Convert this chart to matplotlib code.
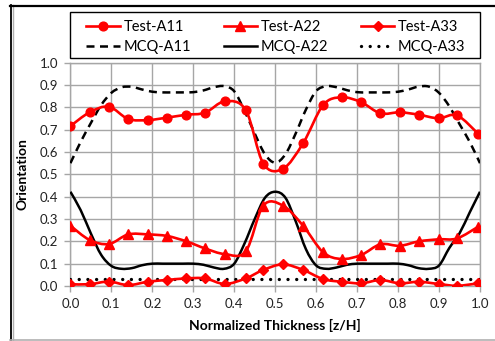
import matplotlib
matplotlib.use("Agg")
import matplotlib.pyplot as plt
from matplotlib.path import Path
from matplotlib.patches import PathPatch, Rectangle
from matplotlib.lines import Line2D
from matplotlib.ticker import MultipleLocator, FormatStrFormatter

# ---------------- data ----------------
test_x = [0.0, 0.047, 0.094, 0.141, 0.189, 0.236, 0.283, 0.329, 0.377, 0.428, 0.471,
          0.519, 0.568, 0.617, 0.662, 0.710, 0.757, 0.804, 0.851, 0.899, 0.944, 0.996]
test_a11 = [0.716, 0.778, 0.803, 0.748, 0.743, 0.754, 0.767, 0.776, 0.827, 0.788, 0.548,
            0.525, 0.639, 0.810, 0.845, 0.823, 0.773, 0.778, 0.767, 0.751, 0.764, 0.681]
test_a22 = [0.270, 0.206, 0.188, 0.231, 0.231, 0.224, 0.200, 0.168, 0.143, 0.155, 0.360,
            0.360, 0.270, 0.151, 0.121, 0.139, 0.187, 0.180, 0.200, 0.209, 0.213, 0.266]
test_a33 = [0.008, 0.008, 0.020, 0.004, 0.019, 0.027, 0.034, 0.034, 0.009, 0.034, 0.072,
            0.097, 0.072, 0.031, 0.019, 0.012, 0.027, 0.012, 0.019, 0.009, 0.001, 0.012]

mcq_x = [0.000, 0.025, 0.050, 0.075, 0.100, 0.125, 0.150, 0.175, 0.200, 0.225, 0.250,
         0.275, 0.300, 0.325, 0.350, 0.375, 0.400, 0.425, 0.450, 0.475, 0.500,
         0.525, 0.550, 0.575, 0.600, 0.625, 0.650, 0.675, 0.700, 0.725, 0.750,
         0.775, 0.800, 0.825, 0.850, 0.875, 0.900, 0.925, 0.950, 0.975, 1.000]
mcq_a11 = [0.550, 0.645, 0.730, 0.810, 0.865, 0.890, 0.892, 0.880, 0.870, 0.867, 0.867,
           0.867, 0.868, 0.876, 0.890, 0.895, 0.872, 0.785, 0.683, 0.590, 0.552,
           0.590, 0.683, 0.790, 0.873, 0.895, 0.890, 0.877, 0.868, 0.867, 0.867,
           0.867, 0.870, 0.880, 0.893, 0.893, 0.865, 0.805, 0.725, 0.645, 0.550]
mcq_a22 = [0.422, 0.340, 0.235, 0.140, 0.090, 0.077, 0.080, 0.093, 0.100, 0.100, 0.100,
           0.100, 0.100, 0.095, 0.083, 0.077, 0.100, 0.190, 0.300, 0.395, 0.422,
           0.395, 0.290, 0.165, 0.092, 0.077, 0.083, 0.095, 0.100, 0.100, 0.100,
           0.100, 0.100, 0.093, 0.080, 0.077, 0.092, 0.170, 0.236, 0.330, 0.422]
mcq_a33_x = [0.0, 1.0]
mcq_a33 = [0.03, 0.03]

labels = ["Test-A11", "Test-A22", "Test-A33", "MCQ-A11", "MCQ-A22", "MCQ-A33"]

# ---------------- style ----------------
plt.rcParams['font.family'] = ['Lato', 'DejaVu Sans']
RED = "#ff0000"
GRID = "#a6a6a6"

W, H = 495, 341
fig = plt.figure(figsize=(W / 100, H / 100), dpi=100)
ax = fig.add_axes([70.4 / W, (H - 286) / H, 409.6 / W, 223.3 / H])


def smooth_path(x, y):
    """Excel-like smoothed line (Catmull-Rom as cubic Bezier) through data points."""
    pts = list(zip(x, y))
    n = len(pts)
    verts = [pts[0]]
    codes = [Path.MOVETO]
    for i in range(n - 1):
        p0 = pts[i - 1] if i > 0 else pts[i]
        p1 = pts[i]
        p2 = pts[i + 1]
        p3 = pts[i + 2] if i + 2 < n else pts[i + 1]
        c1 = (p1[0] + (p2[0] - p0[0]) / 6, p1[1] + (p2[1] - p0[1]) / 6)
        c2 = (p2[0] - (p3[0] - p1[0]) / 6, p2[1] - (p3[1] - p1[1]) / 6)
        verts += [c1, c2, p2]
        codes += [Path.CURVE4] * 3
    return Path(verts, codes)


def draw_smooth(x, y, color, lw, ls="-", capstyle="butt", z=3):
    patch = PathPatch(smooth_path(x, y), fill=False, edgecolor=color, linewidth=lw,
                      linestyle=ls, capstyle=capstyle, joinstyle="round", zorder=z)
    ax.add_patch(patch)


# MCQ curves
dash = (0, (3.2, 2.2))
dot = (0, (0.01, 2.6))
draw_smooth(mcq_x, mcq_a11, "black", 1.8, dash, z=3)
draw_smooth(mcq_x, mcq_a22, "black", 1.8, "-", z=3)
ax.plot(mcq_a33_x, mcq_a33, color="black", lw=2.4, linestyle=dot,
        dash_capstyle="round", zorder=3)

# Test curves
lw_t = 1.9
draw_smooth(test_x, test_a11, RED, lw_t, z=4)
draw_smooth(test_x, test_a22, RED, lw_t, z=4)
draw_smooth(test_x, test_a33, RED, lw_t, z=4)
ax.plot(test_x, test_a11, linestyle="none", marker="o", ms=6.3, color=RED, zorder=5)
ax.plot(test_x, test_a22, linestyle="none", marker="^", ms=6.5, color=RED, zorder=5)
ax.plot(test_x, test_a33, linestyle="none", marker="D", ms=4.6, color=RED, zorder=5)

# axes
ax.set_xlim(0, 1)
ax.set_ylim(0, 1)
ax.xaxis.set_major_locator(MultipleLocator(0.1))
ax.yaxis.set_major_locator(MultipleLocator(0.1))
ax.xaxis.set_major_formatter(FormatStrFormatter("%.1f"))
ax.yaxis.set_major_formatter(FormatStrFormatter("%.1f"))
ax.grid(True, color=GRID, linewidth=1.0, zorder=0)
ax.set_axisbelow(True)
for s in ax.spines.values():
    s.set_color(GRID)
    s.set_linewidth(1.0)
ax.tick_params(axis="both", direction="out", length=4, width=1, color=GRID,
               labelsize=9.5, labelcolor="#222222", pad=5)
ax.set_xlabel("Normalized Thickness [z/H]", fontsize=10, fontweight="bold", labelpad=6)
ax.set_ylabel("Orientation", fontsize=10, fontweight="bold", labelpad=8)

# legend (frame drawn separately so the entries can be inset like the original)
handles = [
    Line2D([], [], color=RED, lw=lw_t, marker="o", ms=6.3),
    Line2D([], [], color="black", lw=1.8, linestyle=dash),
    Line2D([], [], color=RED, lw=lw_t, marker="^", ms=6.5),
    Line2D([], [], color="black", lw=1.8),
    Line2D([], [], color=RED, lw=lw_t, marker="D", ms=4.6),
    Line2D([], [], color="black", lw=2.4, linestyle=dot, dash_capstyle="round"),
]
order = [0, 3, 1, 4, 2, 5]
fig.add_artist(Rectangle((69.5 / W, 1 - 58.3 / H), 410.5 / W, 46.6 / H,
                         transform=fig.transFigure, fill=False, edgecolor="black",
                         linewidth=1.0))
leg = fig.legend(handles, [labels[i] for i in order], loc="upper left",
                 bbox_to_anchor=(83.5 / W, 1 - 59.3 / H, 385 / W, 42.6 / H),
                 mode="expand", ncol=3, fontsize=10.5, frameon=False,
                 borderaxespad=0, handlelength=2.3,
                 handletextpad=0.25, borderpad=0.2, labelspacing=0.45,
                 columnspacing=1.0)

# outer frame
fig.add_artist(Line2D([10.5 / W, 10.5 / W], [1 - 5 / H, 1 - 340 / H], color="black", lw=1.3,
                      transform=fig.transFigure))
fig.add_artist(Line2D([12.5 / W, 12.5 / W], [1 - 5 / H, 1 - 340 / H], color="#b0b0b0", lw=1.0,
                      transform=fig.transFigure))
fig.add_artist(Line2D([10 / W, 1.0], [1 - 5.5 / H, 1 - 5.5 / H], color="black", lw=1.6,
                      transform=fig.transFigure))
fig.add_artist(Line2D([10 / W, 1.0], [1 - 339.5 / H, 1 - 339.5 / H], color="#b0b0b0", lw=1.2,
                      transform=fig.transFigure))

fig.savefig("out.png", dpi=100)
